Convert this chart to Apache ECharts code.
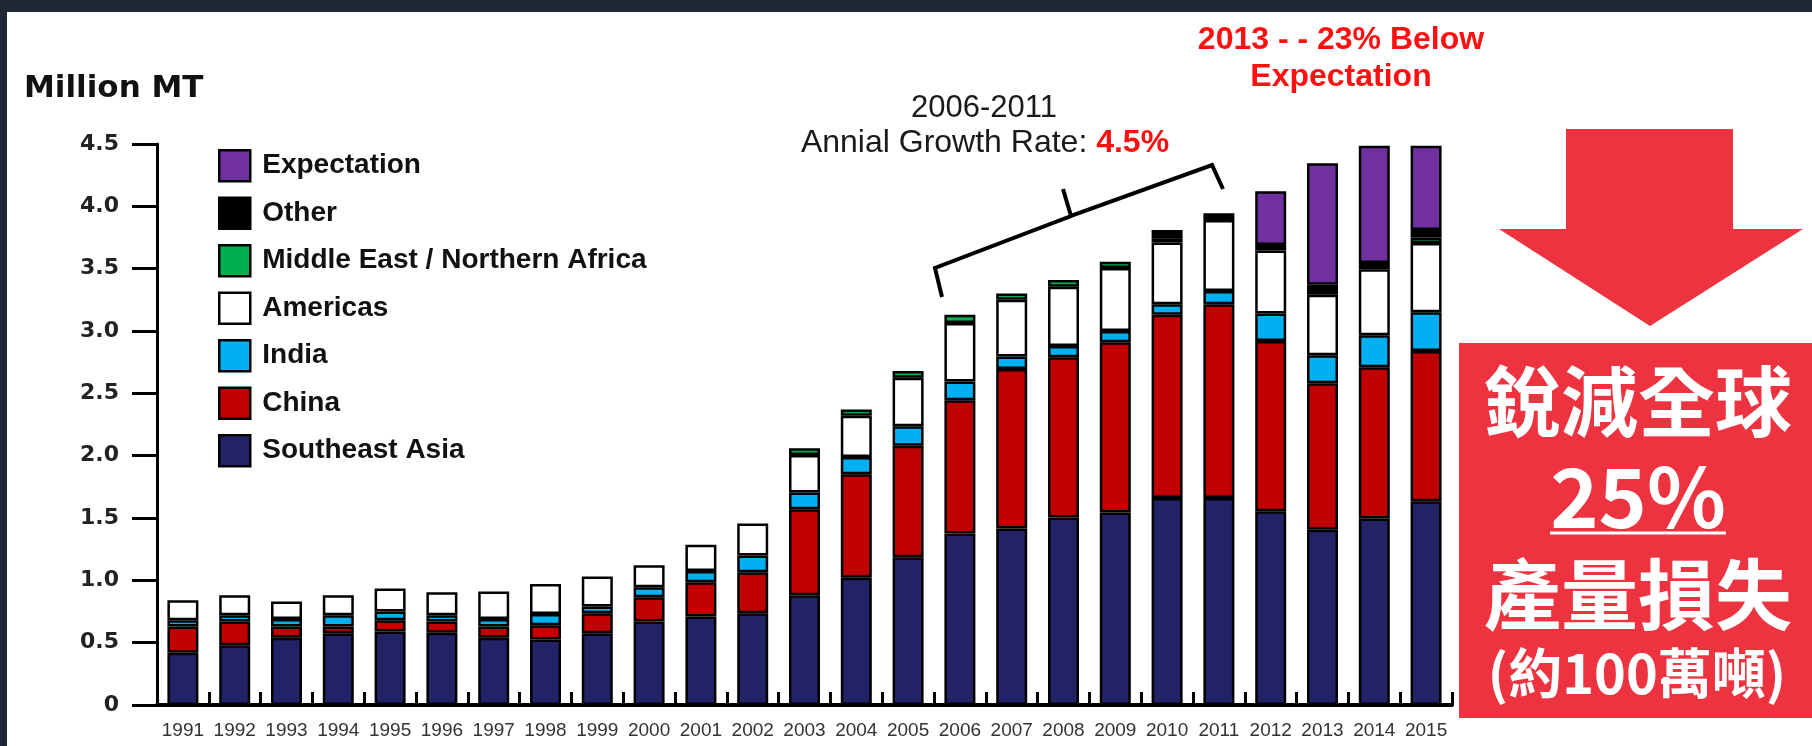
<!DOCTYPE html>
<html><head><meta charset="utf-8">
<script src="https://cdn.jsdelivr.net/npm/echarts@6/dist/echarts.min.js"></script>
<style>html,body{margin:0;padding:0;background:#1f2734;}#c{width:1812px;height:746px;}</style>
</head><body><div id="c"></div>
<script>
const years = ['1991','1992','1993','1994','1995','1996','1997','1998','1999','2000','2001','2002','2003','2004','2005','2006','2007','2008','2009','2010','2011','2012','2013','2014','2015'];
const southeastAsia = [0.42,0.48,0.54,0.575,0.59,0.58,0.54,0.525,0.575,0.67,0.71,0.735,0.88,1.02,1.185,1.375,1.415,1.505,1.545,1.66,1.66,1.555,1.405,1.495,1.635];
const china = [0.21,0.19,0.09,0.055,0.09,0.09,0.09,0.115,0.16,0.195,0.275,0.33,0.69,0.83,0.895,1.07,1.28,1.285,1.365,1.47,1.555,1.365,1.175,1.215,1.205];
const india = [0.05,0.05,0.06,0.09,0.07,0.05,0.06,0.09,0.055,0.08,0.09,0.135,0.135,0.14,0.155,0.15,0.10,0.09,0.09,0.085,0.105,0.22,0.225,0.255,0.31];
const americas = [0.16,0.16,0.14,0.16,0.185,0.185,0.22,0.24,0.24,0.175,0.21,0.255,0.30,0.33,0.39,0.47,0.455,0.475,0.505,0.495,0.57,0.505,0.485,0.53,0.555];
const mena = ['-','-','-','-','-','-','-','-','-','-','-','-',0.055,0.05,0.055,0.065,0.05,0.055,0.05,0.035,'-','-','-','-',0.045];
const other = ['-','-','-','-','-','-','-','-','-','-','-','-','-','-','-','-','-','-','-',0.065,0.055,0.045,0.08,0.05,0.06];
const expectation = ['-','-','-','-','-','-','-','-','-','-','-','-','-','-','-','-','-','-','-','-','-',0.43,0.975,0.94,0.675];
const yTicks = {min:0, max:4.5, step:0.5};

const chart = echarts.init(document.getElementById('c'));
function mk(name, data, color){
  return {name, type:'bar', stack:'total', data, barWidth:31,
    itemStyle:{color, borderColor:'#000', borderWidth:2.5}};
}
const red = '#ED3340';
chart.setOption({
  backgroundColor:'#ffffff',
  animation:false,
  grid:{left:157, right:360, top:144, bottom:41, containLabel:false},
  legend:{
    orient:'vertical', left:218, top:149, padding:0,
    itemWidth:31, itemHeight:31, itemGap:14, icon:'rect',
    data:['Expectation','Other','Middle East / Northern Africa','Americas','India','China','Southeast Asia'],
    itemStyle:{borderColor:'#000', borderWidth:2.5},
    textStyle:{fontFamily:'Liberation Sans, Arial, sans-serif', fontWeight:'bold', fontSize:28, color:'#111', padding:[0,0,0,7]}
  },
  xAxis:{
    type:'category', data:years, boundaryGap:true,
    axisLine:{lineStyle:{color:'#000', width:4}},
    axisTick:{show:true, inside:true, length:13, lineStyle:{color:'#000', width:3}},
    axisLabel:{interval:0, margin:16, fontFamily:'Liberation Sans, Arial, sans-serif', fontSize:19, color:'#333'}
  },
  yAxis:{
    type:'value', min:yTicks.min, max:yTicks.max, interval:yTicks.step,
    splitLine:{show:false},
    axisLine:{show:true, lineStyle:{color:'#000', width:3}},
    axisTick:{show:true, length:25, lineStyle:{color:'#000', width:3}},
    axisLabel:{margin:38, fontFamily:'DejaVu Sans, sans-serif', fontWeight:'bold', fontSize:22, color:'#222',
      formatter:v => v === 0 ? '0' : v.toFixed(1)}
  },
  series:[
    mk('Southeast Asia', southeastAsia, '#222267'),
    mk('China', china, '#C00000'),
    mk('India', india, '#00B0F0'),
    mk('Americas', americas, '#FFFFFF'),
    mk('Middle East / Northern Africa', mena, '#00B050'),
    mk('Other', other, '#000000'),
    mk('Expectation', expectation, '#7030A0')
  ],
  graphic:[
    {type:'rect', shape:{x:0,y:0,width:1812,height:12}, style:{fill:'#1f2734'}, silent:true},
    {type:'rect', shape:{x:0,y:0,width:7,height:746}, style:{fill:'#1f2734'}, silent:true},
    {type:'text', left:24, top:73, style:{text:'Million MT', fontFamily:'DejaVu Sans, sans-serif', fontWeight:'bold', fontSize:31, fill:'#111'}},
    {type:'text', x:984, y:108, style:{text:'2006-2011', fontFamily:'Liberation Sans, Arial, sans-serif', fontSize:31, fill:'#1a1a1a', align:'center', verticalAlign:'middle'}},
    {type:'text', x:985, y:143, style:{text:'{a|Annial Growth Rate: }{b|4.5%}', align:'center', verticalAlign:'middle',
      rich:{a:{fontFamily:'Liberation Sans, Arial, sans-serif', fontSize:32, fill:'#1a1a1a'}, b:{fontFamily:'Liberation Sans, Arial, sans-serif', fontSize:32, fontWeight:'bold', fill:'#ff1010'}}}},
    {type:'polyline', shape:{points:[[942,297],[935,268],[1071,216],[1063,189],[1071,216],[1212,165],[1223,189]]},
      style:{stroke:'#000', lineWidth:4, fill:null, lineJoin:'miter'}},
    {type:'text', x:1341, y:40, style:{text:'2013 - - 23% Below', fontFamily:'Liberation Sans, Arial, sans-serif', fontWeight:'bold', fontSize:32, fill:'#ff1010', align:'center', verticalAlign:'middle'}},
    {type:'text', x:1341, y:77, style:{text:'Expectation', fontFamily:'Liberation Sans, Arial, sans-serif', fontWeight:'bold', fontSize:32, fill:'#ff1010', align:'center', verticalAlign:'middle'}},
    {type:'polygon', shape:{points:[[1566,129],[1733,129],[1733,229],[1803,229],[1650,326],[1499,229],[1566,229]]}, style:{fill:red}},
    {type:'rect', shape:{x:1459,y:343,width:353,height:375}, style:{fill:red}},
    {type:'text', x:1638, y:402, style:{text:'銳減全球', fontFamily:'Noto Sans CJK TC, sans-serif', fontWeight:'bold', fontSize:77, fill:'#fff', align:'center', verticalAlign:'middle'}},
    {type:'text', x:1638, y:497, style:{text:'25%', fontFamily:'Noto Sans CJK TC, sans-serif', fontWeight:'bold', fontSize:82, fill:'#fff', align:'center', verticalAlign:'middle'}},
    {type:'line', shape:{x1:1550,y1:533,x2:1726,y2:533}, style:{stroke:'#fff', lineWidth:3}},
    {type:'text', x:1638, y:595, style:{text:'產量損失', fontFamily:'Noto Sans CJK TC, sans-serif', fontWeight:'bold', fontSize:77, fill:'#fff', align:'center', verticalAlign:'middle'}},
    {type:'text', x:1637, y:673, style:{text:'(約100萬噸)', fontFamily:'Noto Sans CJK TC, sans-serif', fontWeight:'bold', fontSize:54, fill:'#fff', align:'center', verticalAlign:'middle'}}
  ]
});
</script></body></html>
